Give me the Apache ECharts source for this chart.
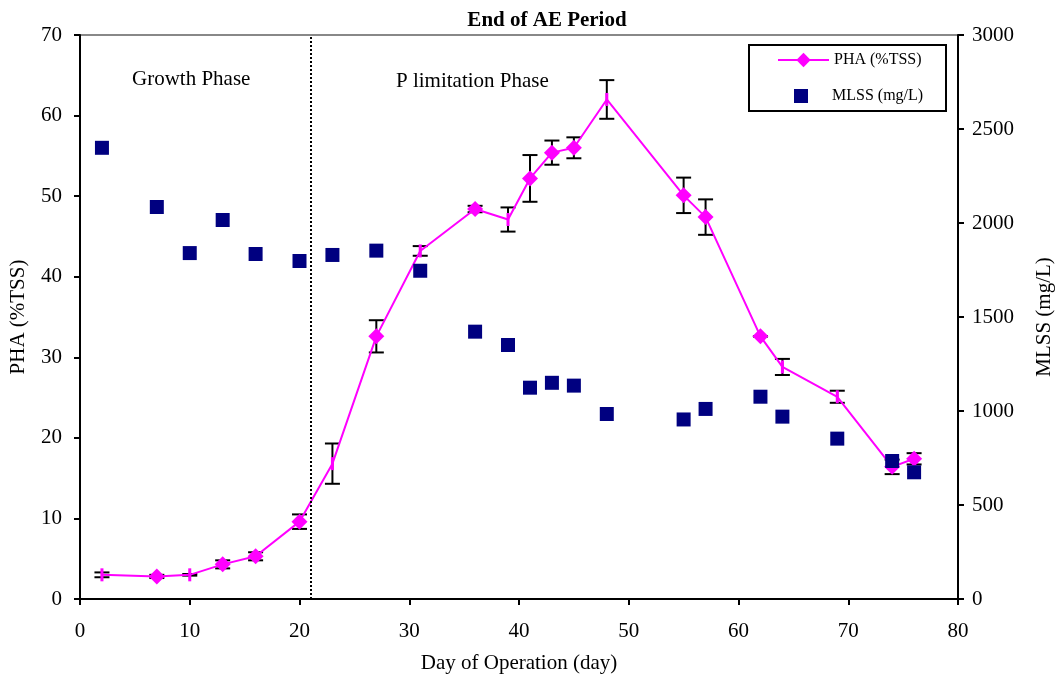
<!DOCTYPE html>
<html><head><meta charset="utf-8">
<script src="https://cdn.jsdelivr.net/npm/echarts@6/dist/echarts.min.js"></script>
<style>html,body{margin:0;padding:0;background:#fff}#c{width:1060px;height:679px}</style>
</head><body><div id="c"></div>
<script>
const days = [2,7,10,13,16,20,23,27,31,36,39,41,43,45,48,55,57,62,64,69,74,76];
const phaValues = [3.0,2.8,3.0,4.3,5.3,9.6,16.8,32.6,43.2,48.4,47.1,52.2,55.4,56.0,62.0,50.1,47.4,32.6,28.8,25.1,16.4,17.4];
const phaErrors = [0.3,0.2,0.1,0.5,0.5,0.9,2.5,2.0,0.6,0.4,1.5,2.9,1.5,1.3,2.4,2.2,2.2,0,1.0,0.75,0.9,0.7];
const phaMarkerShown = [0,1,0,1,1,1,0,1,0,1,0,1,1,1,0,1,1,1,0,0,1,1];
const mlssValues = [2400,2085,1840,2016,1835,1798,1830,1853,1746,1422,1351,1124,1150,1135,984,955,1011,1076,970,853,734,674];
const phaseBoundary = 21;

const serif = 'Liberation Serif';
const FS = 21;
const chart = echarts.init(document.getElementById('c'));

const phaData = days.map((d,i)=>phaMarkerShown[i]
  ? {value:[d,phaValues[i]], symbol:'diamond', symbolSize:16}
  : {value:[d,phaValues[i]], symbol:'rect', symbolSize:[3,13]});
const errData = days.map((d,i)=>[d, phaValues[i]-phaErrors[i], phaValues[i]+phaErrors[i]]);
const mlssData = days.map((d,i)=>[d, mlssValues[i]]);

chart.setOption({
  animation:false,
  backgroundColor:'#fff',
  textStyle:{fontFamily:serif},
  title:{text:'End of AE Period', left:542, top:5, textAlign:'center',
    textStyle:{fontFamily:serif, fontWeight:'bold', fontSize:21, color:'#000'}},
  grid:{left:80, right:102, top:35, bottom:80, containLabel:false, outerBoundsMode:'none',
    show:true, borderColor:'#888', borderWidth:2, backgroundColor:'transparent'},
  legend:[
    {orient:'vertical', left:777, top:52, padding:0, z:6,
      itemWidth:51, itemHeight:18,
      textStyle:{fontFamily:serif, fontSize:16, color:'#000'},
      data:[{name:'PHA (%TSS)'}]},
    {orient:'vertical', left:794, top:88, padding:0, z:6,
      itemWidth:14, itemHeight:14,
      textStyle:{fontFamily:serif, fontSize:16, color:'#000', padding:[0,0,0,19]},
      data:[{name:'MLSS (mg/L)', icon:'rect'}]}
  ],
  xAxis:{type:'value', min:0, max:80, interval:10,
    name:'Day of Operation (day)', nameLocation:'middle', nameGap:54,
    nameTextStyle:{fontFamily:serif, fontSize:FS, color:'#000'},
    axisLine:{onZero:false, lineStyle:{color:'#000', width:2}},
    axisTick:{inside:false, length:6, lineStyle:{color:'#000', width:2}},
    axisLabel:{fontFamily:serif, fontSize:FS, color:'#000', margin:22},
    splitLine:{show:false}},
  yAxis:[
    {type:'value', min:0, max:70, interval:10, position:'left',
      name:'PHA (%TSS)', nameLocation:'middle', nameGap:51, nameRotate:90,
      nameTextStyle:{fontFamily:serif, fontSize:FS, color:'#000'},
      axisLine:{show:true, lineStyle:{color:'#000', width:2}},
      axisTick:{show:true, length:6, lineStyle:{color:'#000', width:2}},
      axisLabel:{fontFamily:serif, fontSize:FS, color:'#000', margin:18},
      splitLine:{show:false}},
    {type:'value', min:0, max:3000, interval:500, position:'right',
      name:'MLSS (mg/L)', nameLocation:'middle', nameGap:76, nameRotate:90,
      nameTextStyle:{fontFamily:serif, fontSize:FS, color:'#000'},
      axisLine:{show:true, lineStyle:{color:'#000', width:2}},
      axisTick:{show:true, length:6, lineStyle:{color:'#000', width:2}},
      axisLabel:{fontFamily:serif, fontSize:FS, color:'#000', margin:14, formatter:v=>String(v)},
      splitLine:{show:false}}
  ],
  graphic:[
    {type:'rect', z:5, shape:{x:749, y:45, width:197, height:66},
      style:{fill:'#fff', stroke:'#000', lineWidth:2}},
    {type:'text', left:132, top:69, style:{text:'Growth Phase', font:FS+'px "Liberation Serif"', fill:'#000'}},
    {type:'text', left:396, top:71, style:{text:'P limitation Phase', font:FS+'px "Liberation Serif"', fill:'#000'}}
  ],
  series:[
    {type:'custom', name:'err', yAxisIndex:0, z:1, silent:true,
      renderItem:function(params, api){
        const x = api.value(0);
        const lo = api.coord([x, api.value(1)]);
        const hi = api.coord([x, api.value(2)]);
        const cap = 7.5;
        const st = {stroke:'#000', lineWidth:2};
        return {type:'group', children:[
          {type:'line', shape:{x1:lo[0], y1:lo[1], x2:hi[0], y2:hi[1]}, style:st},
          {type:'line', shape:{x1:lo[0]-cap, y1:lo[1], x2:lo[0]+cap, y2:lo[1]}, style:st},
          {type:'line', shape:{x1:hi[0]-cap, y1:hi[1], x2:hi[0]+cap, y2:hi[1]}, style:st}
        ]};
      },
      data:errData},
    {type:'line', name:'PHA (%TSS)', yAxisIndex:0, z:3,
      symbol:'diamond', symbolSize:16, showAllSymbol:true,
      lineStyle:{color:'#ff00ff', width:2}, itemStyle:{color:'#ff00ff', opacity:1},
      data:phaData,
      markLine:{silent:true, symbol:'none', label:{show:false},
        lineStyle:{color:'#000', type:[2,2], width:2},
        data:[{xAxis:phaseBoundary}]}},
    {type:'scatter', name:'MLSS (mg/L)', yAxisIndex:1, z:4,
      symbol:'rect', symbolSize:14, itemStyle:{color:'#000080', opacity:1},
      data:mlssData}
  ]
});
</script></body></html>
